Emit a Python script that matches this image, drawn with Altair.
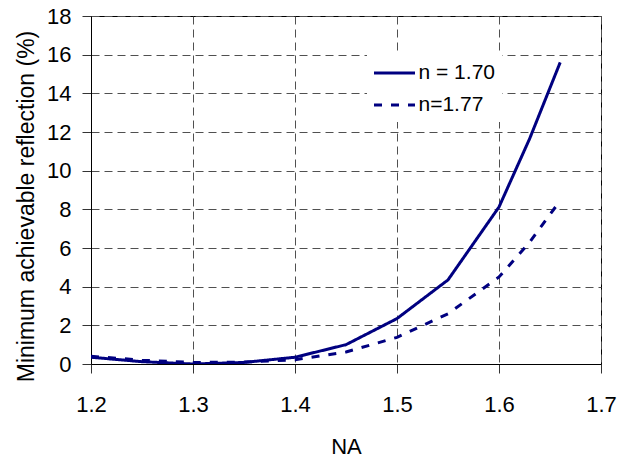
import altair as alt
import pandas as pd

na = [1.20, 1.25, 1.30, 1.35, 1.40, 1.45, 1.50, 1.55, 1.60, 1.63, 1.66]
refl_170 = [0.35, 0.12, 0.00, 0.08, 0.35, 1.00, 2.35, 4.35, 8.12, 11.65, 15.60]
refl_177 = [0.40, 0.20, 0.08, 0.10, 0.22, 0.62, 1.38, 2.60, 4.50, 6.30, 8.45]
series_names = ["n = 1.70", "n=1.77"]
x_ticks = [1.2, 1.3, 1.4, 1.5, 1.6, 1.7]
y_ticks = [0, 2, 4, 6, 8, 10, 12, 14, 16, 18]

rows = []
for name, vals in zip(series_names, [refl_170, refl_177]):
    for x, v in zip(na, vals):
        rows.append({"NA": x, "R": v, "series": name})
df = pd.DataFrame(rows)

FONT = "Liberation Sans"
navy = "#000080"

legend = alt.Legend(
    title=None,
    orient="none",
    legendX=276,
    legendY=38,
    fillColor="white",
    padding=7,
    symbolType="M-2,0H2",
    symbolSize=420,
    symbolStrokeWidth=3,
    symbolOffset=8.5,
    labelOffset=12,
    rowPadding=10,
    labelFont=FONT,
    labelFontSize=21,
    labelColor="black",
    labelLimit=300,
)

chart = (
    alt.Chart(df)
    .mark_line(strokeWidth=3, clip=True)
    .encode(
        x=alt.X(
            "NA:Q",
            scale=alt.Scale(domain=[1.2, 1.7], nice=False, zero=False),
            axis=alt.Axis(
                values=x_ticks,
                format=".1f",
                title="NA",
                titleX=255,
                titleY=89,
                titleBaseline="alphabetic",
                labelBaseline="alphabetic",
                labelPadding=38,
                labelFlush=False,
            ),
        ),
        y=alt.Y(
            "R:Q",
            scale=alt.Scale(domain=[0, 18], nice=False),
            axis=alt.Axis(
                values=y_ticks,
                title="Minimum achievable reflection (%)",
                titleX=-58,
                titleY=190,
                titleAngle=270,
                titleFontSize=23,
                titleBaseline="alphabetic",
                labelPadding=11,
                labelBaseline="middle",
                labelFlush=False,
            ),
        ),
        color=alt.Color(
            "series:N",
            scale=alt.Scale(domain=series_names, range=[navy, navy]),
            legend=legend,
        ),
        strokeDash=alt.StrokeDash(
            "series:N",
            scale=alt.Scale(domain=series_names, range=[[1, 0], [8, 9]]),
            legend=legend,
        ),
    )
    .properties(
        width=510,
        height=348,
        autosize=alt.AutoSizeParams(type="none"),
        padding={"left": 91, "top": 16, "right": 26, "bottom": 97},
        background="white",
    )
    .configure_view(stroke="#000000", strokeWidth=1)
    .configure_axis(
        grid=True,
        gridColor="#505050",
        gridDash=[8, 5],
        gridWidth=1,
        gridOpacity=1,
        domainColor="#000000",
        domainWidth=1,
        tickColor="#333333",
        tickSize=9,
        tickWidth=1,
        labelFont=FONT,
        labelFontSize=22,
        labelColor="black",
        titleFont=FONT,
        titleFontSize=22,
        titleFontWeight="normal",
        titleColor="black",
    )
)

chart.save("out.html", embed_options={"renderer": "svg", "actions": False})
